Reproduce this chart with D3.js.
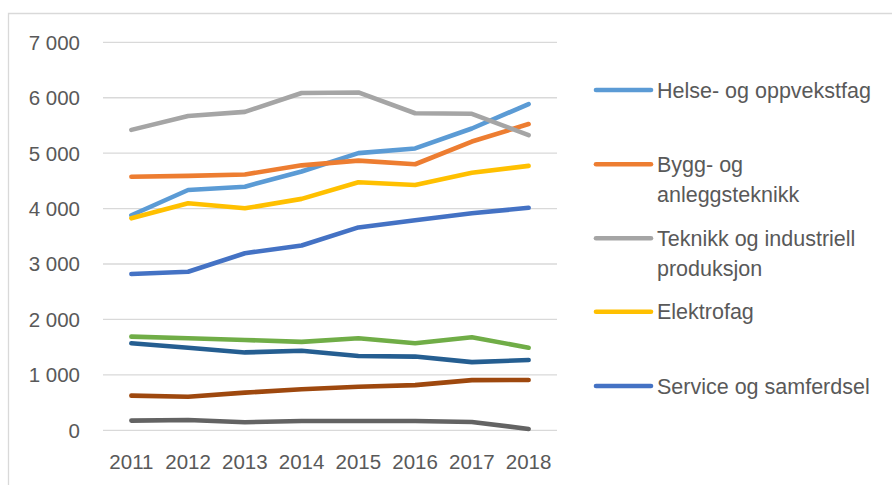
<!DOCTYPE html>
<html>
<head>
<meta charset="utf-8">
<script src="https://cdn.jsdelivr.net/npm/d3@7"></script>
<style>
  body { margin: 0; background: #fff; }
  svg { display: block; font-family: "Liberation Sans", Arial, sans-serif; }
</style>
</head>
<body>
<svg></svg>
<script>
const years = ["2011", "2012", "2013", "2014", "2015", "2016", "2017", "2018"]
const yTicks = [0, 1000, 2000, 3000, 4000, 5000, 6000, 7000]

// series in drawing order (first five have legend entries)
const helse = [3880, 4335, 4395, 4670, 5000, 5085, 5445, 5885]
const bygg = [4575, 4590, 4615, 4780, 4865, 4800, 5210, 5525]
const teknikk = [5420, 5670, 5745, 6085, 6095, 5720, 5710, 5325]
const elektro = [3825, 4095, 4005, 4175, 4475, 4425, 4645, 4770]
const service = [2820, 2860, 3195, 3335, 3660, 3790, 3915, 4015]
const serie6 = [1690, 1660, 1630, 1595, 1660, 1570, 1680, 1490]
const serie7 = [1570, 1490, 1405, 1435, 1340, 1330, 1230, 1268]
const serie8 = [625, 605, 680, 740, 785, 815, 905, 907]
const serie9 = [175, 185, 145, 168, 168, 168, 150, 25]

const legendLines = [["Helse- og oppvekstfag"], ["Bygg- og", "anleggsteknikk"],
    ["Teknikk og industriell", "produksjon"], ["Elektrofag"], ["Service og samferdsel"]]
const colors = ["#5B9BD5", "#ED7D31", "#A5A5A5", "#FFC000", "#4472C4",
    "#70AD47", "#255E91", "#9E480E", "#636363"]

const allSeries = [helse, bygg, teknikk, elektro, service, serie6, serie7, serie8, serie9]

const width = 892
const height = 485
const svg = d3.select("svg").attr("width", width).attr("height", height)

// outer frame (only top and left edges are visible)
svg.append("path")
    .attr("d", `M8.5,${height} V13.5 H${width}`)
    .attr("fill", "none")
    .attr("stroke", "#d9d9d9")
    .attr("stroke-width", 1.3)

const plot = { left: 103, right: 557, top: 42.3, bottom: 430.3 }

const x = d3.scalePoint()
    .domain(years)
    .range([plot.left, plot.right])
    .padding(0.5)

const y = d3.scaleLinear()
    .domain([0, 7000])
    .range([plot.bottom, plot.top])

const fmt = v => d3.format(",")(v).replace(",", " ")

// gridlines
svg.append("g")
    .selectAll("line")
    .data(yTicks)
    .join("line")
    .attr("x1", plot.left)
    .attr("x2", plot.right)
    .attr("y1", d => y(d))
    .attr("y2", d => y(d))
    .attr("stroke", "#d9d9d9")
    .attr("stroke-width", 1.3)

// y labels
svg.append("g")
    .selectAll("text")
    .data(yTicks)
    .join("text")
    .attr("x", 80)
    .attr("y", d => y(d))
    .attr("dy", "0.36em")
    .attr("text-anchor", "end")
    .attr("fill", "#595959")
    .attr("font-size", 20.5)
    .text(d => fmt(d))

// x labels
svg.append("g")
    .selectAll("text")
    .data(years)
    .join("text")
    .attr("x", d => x(d))
    .attr("y", 462)
    .attr("dy", "0.36em")
    .attr("text-anchor", "middle")
    .attr("fill", "#595959")
    .attr("font-size", 20.5)
    .text(d => d)

// lines
const line = d3.line()
    .x((d, i) => x(years[i]))
    .y(d => y(d))

svg.append("g")
    .selectAll("path")
    .data(allSeries)
    .join("path")
    .attr("d", d => line(d))
    .attr("fill", "none")
    .attr("stroke", (d, i) => colors[i])
    .attr("stroke-width", 4.6)
    .attr("stroke-linejoin", "round")
    .attr("stroke-linecap", "round")

// legend
const legendY = [90, 164.3, 238.3, 311.7, 386]
const legend = svg.append("g")
    .selectAll("g")
    .data(legendLines)
    .join("g")
    .attr("transform", (d, i) => `translate(0,${legendY[i]})`)

legend.append("line")
    .attr("x1", 596)
    .attr("x2", 651)
    .attr("stroke", (d, i) => colors[i])
    .attr("stroke-width", 4.6)
    .attr("stroke-linecap", "round")

legend.append("text")
    .attr("x", 657)
    .attr("fill", "#595959")
    .attr("font-size", 21.5)
    .selectAll("tspan")
    .data(d => d)
    .join("tspan")
    .attr("x", 657)
    .attr("y", (d, i) => i * 29.5)
    .attr("dy", "0.36em")
    .text(d => d)
</script>
</body>
</html>
